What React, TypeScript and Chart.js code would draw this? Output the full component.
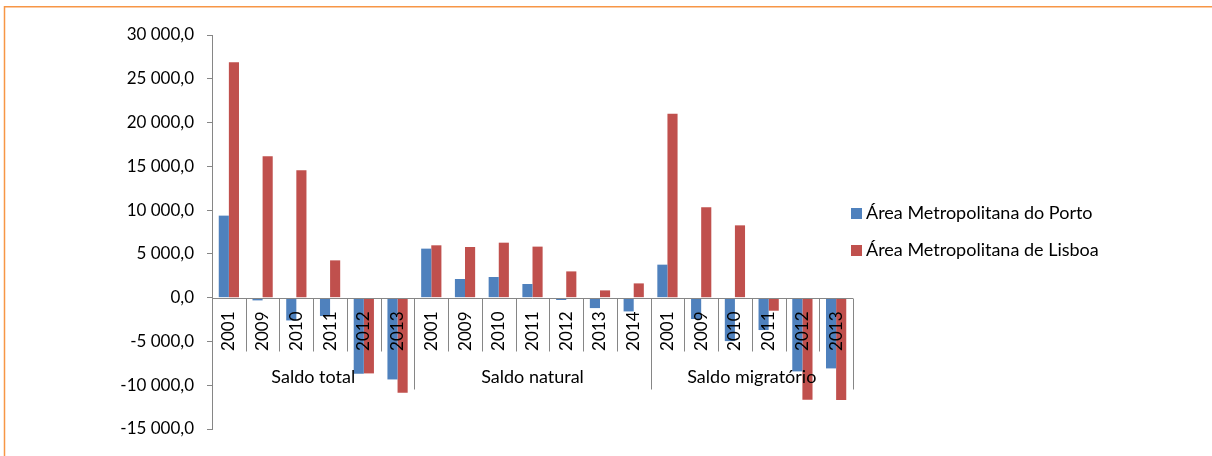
import React, { useEffect, useRef } from "react";
import { Chart, registerables } from "chart.js";

Chart.register(...registerables);

const groupNames = ["Saldo total", "Saldo natural", "Saldo migratório"];
const yearsTotal = ["2001", "2009", "2010", "2011", "2012", "2013"];
const yearsNatural = ["2001", "2009", "2010", "2011", "2012", "2013", "2014"];
const yearsMigratorio = ["2001", "2009", "2010", "2011", "2012", "2013"];

const seriesNames = ["Área Metropolitana do Porto", "Área Metropolitana de Lisboa"];

const porto = [
  9370, -310, -2600, -2100, -8690, -9340,
  5600, 2130, 2360, 1560, -270, -1190, -1570,
  3770, -2440, -4960, -3700, -8420, -8080,
];
const lisboa = [
  26900, 16150, 14550, 4260, -8650, -10860,
  5980, 5790, 6280, 5830, 3000, 830, 1630,
  21000, 10320, 8260, -1490, -11660, -11700,
];

const yMin = -15000;
const yMax = 30000;
const yStep = 5000;

const colors = ["#4F81BD", "#C0504D"];
const axisColor = "#868686";
const FONT = "Lato";
const FONT_SIZE = 17;
const FONT_SIZE_LARGE = 18;

const groups = [yearsTotal, yearsNatural, yearsMigratorio];
const labels = groups.flat();

function fmt(v: number): string {
  const neg = v < 0;
  const s = Math.abs(v).toFixed(1);
  const [i, d] = s.split(".");
  const withSpaces = i.replace(/\B(?=(\d{3})+(?!\d))/g, " ");
  return (neg ? "-" : "") + withSpaces + "," + d;
}

const decorPlugin = {
  id: "decor",
  beforeDraw(chart: any) {
    const ctx = chart.ctx;
    ctx.save();
    ctx.strokeStyle = "#F79646";
    ctx.lineWidth = 1.5;
    ctx.beginPath();
    ctx.moveTo(4.5, 480);
    ctx.lineTo(4.5, 6.75);
    ctx.lineTo(1220, 6.75);
    ctx.stroke();
    ctx.restore();
  },
  afterDatasetsDraw(chart: any) {
    const { ctx } = chart;
    const x = chart.scales.x;
    const y = chart.scales.y;
    const y0 = Math.round(y.getPixelForValue(0)) + 0.5;
    const n = labels.length;
    const w = (x.right - x.left) / n;
    ctx.save();
    ctx.strokeStyle = axisColor;
    ctx.lineWidth = 1;
    ctx.beginPath();
    ctx.moveTo(x.left, y0);
    ctx.lineTo(x.right, y0);
    ctx.stroke();

    const bounds: number[] = [0];
    groups.forEach((g) => bounds.push(bounds[bounds.length - 1] + g.length));

    for (let i = 0; i <= n; i++) {
      const bx = Math.round(x.left + i * w) + 0.5;
      const len = bounds.includes(i) ? 91 : 53;
      ctx.beginPath();
      ctx.moveTo(bx, y0);
      ctx.lineTo(bx, y0 + len);
      ctx.stroke();
    }

    ctx.fillStyle = "#000";
    ctx.font = `${FONT_SIZE}px ${FONT}`;
    for (let i = 0; i < n; i++) {
      const cx = x.getPixelForValue(i);
      ctx.save();
      ctx.translate(cx, y0 + 13);
      ctx.rotate(-Math.PI / 2);
      ctx.textAlign = "right";
      ctx.textBaseline = "middle";
      ctx.fillText(labels[i], 0, 0);
      ctx.restore();
    }

    ctx.font = `${FONT_SIZE_LARGE}px ${FONT}`;
    ctx.textAlign = "center";
    ctx.textBaseline = "middle";
    for (let g = 0; g < groups.length; g++) {
      const a = x.left + bounds[g] * w;
      const b = x.left + bounds[g + 1] * w;
      ctx.fillText(groupNames[g], (a + b) / 2, y0 + 79);
    }

    // legend
    const legendX = 851;
    const legendY = [213.5, 250.5];
    ctx.textAlign = "left";
    for (let k = 0; k < seriesNames.length; k++) {
      ctx.fillStyle = colors[k];
      ctx.fillRect(legendX, legendY[k] - 5.5, 11, 11);
      ctx.fillStyle = "#000";
      ctx.fillText(seriesNames[k], legendX + 15, legendY[k]);
    }
    ctx.restore();
  },
};

export default function App() {
  const ref = useRef<HTMLCanvasElement | null>(null);
  useEffect(() => {
    if (!ref.current) return;
    const chart = new Chart(ref.current, {
      type: "bar",
      data: {
        labels,
        datasets: [
          {
            label: seriesNames[0],
            data: porto,
            backgroundColor: colors[0],
            barPercentage: 1,
            categoryPercentage: 0.6,
          },
          {
            label: seriesNames[1],
            data: lisboa,
            backgroundColor: colors[1],
            barPercentage: 1,
            categoryPercentage: 0.6,
          },
        ],
      },
      options: {
        animation: false,
        responsive: true,
        maintainAspectRatio: false,
        layout: { padding: { top: 35, bottom: 27, left: 0, right: 359 } },
        plugins: {
          legend: { display: false },
          tooltip: { enabled: false },
        },
        scales: {
          x: { display: false },
          y: {
            min: yMin,
            max: yMax,
            afterFit: (scale: any) => {
              scale.width = 212;
            },
            ticks: {
              stepSize: yStep,
              padding: 13,
              color: "#000",
              font: { family: FONT, size: FONT_SIZE },
              callback: (v: any) => fmt(Number(v)),
            },
            grid: {
              drawOnChartArea: false,
              drawTicks: true,
              tickLength: 5,
              color: axisColor,
            },
            border: { display: true, color: axisColor },
          },
        },
      },
      plugins: [decorPlugin],
    });
    return () => chart.destroy();
  }, []);
  return (
    <div
      style={{
        position: "fixed",
        left: 0,
        top: 0,
        width: 1212,
        height: 456,
        background: "#fff",
      }}
    >
      <canvas ref={ref} />
    </div>
  );
}
